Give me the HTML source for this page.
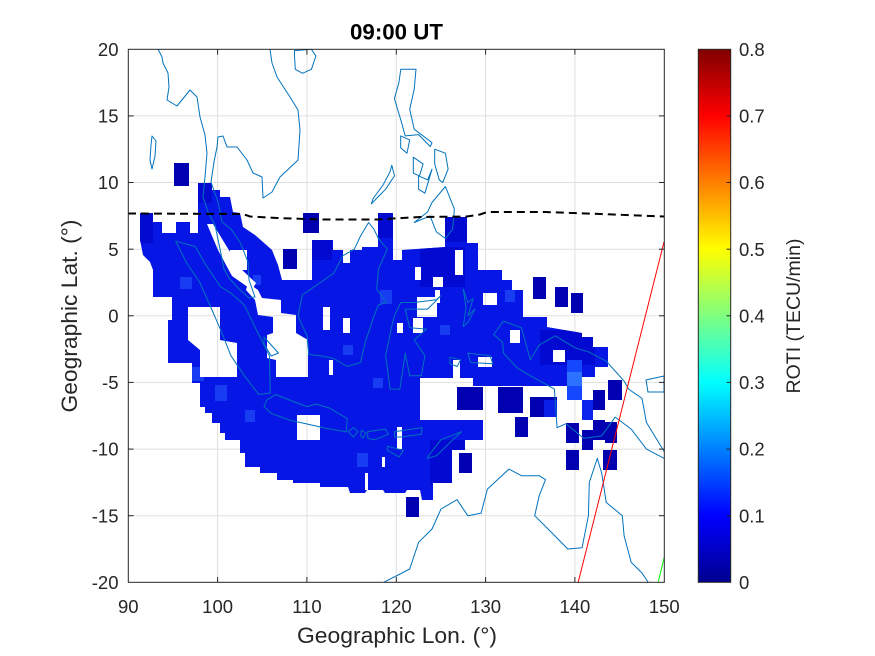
<!DOCTYPE html>
<html>
<head>
<meta charset="utf-8">
<style>
html,body{margin:0;padding:0;background:#fff;}
svg{display:block;}
text{font-family:"Liberation Sans",Arial,sans-serif;fill:#262626;}
</style>
</head>
<body>
<svg width="875" height="656" viewBox="0 0 875 656" xmlns="http://www.w3.org/2000/svg">
<defs>
  <clipPath id="plot"><rect x="128.3" y="49.3" width="536" height="533"/></clipPath>
  <clipPath id="bigclip"><polygon points="140,213 153,213 153,222 198,222 198,183 212,183 212,190 220,190 220,197 230,197 233,212 240,213 243,227 255,235 263,242 272,250 278,265 282,280 312,280 312,240 333,240 333,250 343,250 343,263 350,263 350,250 362,250 362,247 378,247 378,213 393,213 393,260 402,260 402,250 445,247 445,217 467,217 467,243 478,243 478,270 502,270 502,280 512,280 512,290 523,290 523,317 547,317 547,327 582,333 582,337 593,337 593,347 608,347 608,367 595,367 595,377 582,377 582,386 473,386 473,378 420,378 420,420 483,420 483,440 465,440 465,450 452,450 452,483 433,483 433,500 422,500 420,490 407,490 405,493 385,493 383,490 367,490 365,493 350,493 348,487 320,487 320,483 293,483 293,480 277,480 277,473 260,473 260,467 245,467 245,453 240,453 240,440 225,440 225,433 220,433 220,423 212,423 212,413 205,413 205,407 200,407 200,383 192,383 192,363 168,363 168,320 172,320 172,297 153,297 153,270 150,262 143,255 140,240"/></clipPath>
  <linearGradient id="jet" x1="0" y1="1" x2="0" y2="0">
    <stop offset="0" stop-color="#00008f"/>
    <stop offset="0.125" stop-color="#0000ff"/>
    <stop offset="0.375" stop-color="#00ffff"/>
    <stop offset="0.625" stop-color="#ffff00"/>
    <stop offset="0.875" stop-color="#ff0000"/>
    <stop offset="1" stop-color="#800000"/>
  </linearGradient>
  <mask id="holes" maskUnits="userSpaceOnUse" x="0" y="0" width="875" height="656">
    <rect x="0" y="0" width="875" height="656" fill="#fff"/>
    <g fill="#000">
      <rect x="162" y="222" width="14" height="11"/>
      <rect x="190" y="222" width="8" height="11"/>
      <polygon points="207,224 213,224 227,247 240,268 256,283 252,290 232,276 218,250"/>
      <rect x="230" y="250" width="17" height="20"/>
      <polygon points="248,283 258,290 262,298 281,300 281,313 296,315 296,333 308,340 308,377 276,377 276,360 267,358 267,335 273,333 273,317 258,315 255,300 246,290"/>
      <polygon points="188,307 220,307 220,340 237,343 237,377 200,377 200,350 188,340"/>
      <rect x="323" y="307" width="7" height="23"/>
      <rect x="343" y="318" width="7" height="15"/>
      <rect x="417" y="297" width="20" height="20"/>
      <rect x="413" y="318" width="10" height="15"/>
      <rect x="433" y="277" width="10" height="10"/>
      <rect x="415" y="267" width="6" height="13"/>
      <rect x="435" y="290" width="5" height="13"/>
      <rect x="483" y="293" width="14" height="12"/>
      <rect x="478" y="357" width="14" height="10"/>
      <rect x="510" y="330" width="10" height="13"/>
      <rect x="397" y="323" width="6" height="10"/>
      <rect x="455" y="250" width="8" height="25"/>
      <rect x="553" y="350" width="12" height="12"/>
      <rect x="453" y="360" width="7" height="20"/>
      <rect x="297" y="415" width="23" height="25"/>
      <rect x="365" y="473" width="3" height="17"/>
      <rect x="397" y="427" width="5" height="22"/>
      <rect x="382" y="457" width="3" height="10"/>
      <rect x="329" y="360" width="4" height="15"/>
    </g>
  </mask>
</defs>

<rect x="0" y="0" width="875" height="656" fill="#fff"/>

<g stroke="#dfdfdf" stroke-width="1">
  <line x1="217.6" y1="49.3" x2="217.6" y2="582.3"/>
  <line x1="306.9" y1="49.3" x2="306.9" y2="582.3"/>
  <line x1="396.3" y1="49.3" x2="396.3" y2="582.3"/>
  <line x1="485.6" y1="49.3" x2="485.6" y2="582.3"/>
  <line x1="574.9" y1="49.3" x2="574.9" y2="582.3"/>
  <line x1="128.3" y1="115.9" x2="664.3" y2="115.9"/>
  <line x1="128.3" y1="182.5" x2="664.3" y2="182.5"/>
  <line x1="128.3" y1="249.2" x2="664.3" y2="249.2"/>
  <line x1="128.3" y1="315.8" x2="664.3" y2="315.8"/>
  <line x1="128.3" y1="382.4" x2="664.3" y2="382.4"/>
  <line x1="128.3" y1="449.1" x2="664.3" y2="449.1"/>
  <line x1="128.3" y1="515.7" x2="664.3" y2="515.7"/>
</g>

<g clip-path="url(#plot)">
  <g mask="url(#holes)">
    <g clip-path="url(#bigclip)">
      <rect x="128" y="160" width="500" height="360" fill="#0616e4"/>
      <g fill="#0004c4" opacity="0.6">
        <rect x="420" y="247" width="45" height="40"/>
        <rect x="540" y="330" width="55" height="35"/>
        <rect x="140" y="213" width="13" height="30"/>
        <rect x="198" y="183" width="14" height="20"/>
        <rect x="378" y="213" width="15" height="25"/>
        <rect x="445" y="217" width="22" height="25"/>
        <rect x="430" y="440" width="35" height="45"/>
        <rect x="312" y="240" width="20" height="20"/>
      </g>
      <g fill="#2a62ff" opacity="0.5">
        <rect x="180" y="277" width="12" height="12"/>
        <rect x="253" y="275" width="8" height="10"/>
        <rect x="192" y="367" width="12" height="14"/>
        <rect x="215" y="385" width="12" height="16"/>
        <rect x="357" y="453" width="11" height="14"/>
        <rect x="380" y="290" width="12" height="14"/>
        <rect x="245" y="410" width="10" height="12"/>
        <rect x="440" y="325" width="10" height="10"/>
        <rect x="505" y="290" width="10" height="12"/>
        <rect x="343" y="345" width="10" height="10"/>
        <rect x="373" y="378" width="10" height="10"/>
      </g>
    </g>
  </g>

  <g fill="#0000b0">
    <rect x="174" y="163" width="15" height="23"/>
    <rect x="303" y="213" width="16" height="20"/>
    <rect x="283" y="249" width="14" height="20"/>
    <rect x="533" y="277" width="13" height="22"/>
    <rect x="555" y="287" width="13" height="20"/>
    <rect x="571" y="293" width="12" height="20"/>
    <rect x="457" y="387" width="26" height="23"/>
    <rect x="498" y="387" width="25" height="26"/>
    <rect x="530" y="397" width="27" height="20"/>
    <rect x="515" y="417" width="13" height="20"/>
    <rect x="582" y="400" width="11" height="20"/>
    <rect x="593" y="390" width="12" height="20"/>
    <rect x="608" y="380" width="14" height="20"/>
    <rect x="593" y="420" width="12" height="20"/>
    <rect x="582" y="430" width="11" height="20"/>
    <rect x="605" y="422" width="12" height="21"/>
    <rect x="566" y="423" width="13" height="20"/>
    <rect x="566" y="450" width="13" height="20"/>
    <rect x="603" y="450" width="14" height="20"/>
    <rect x="459" y="453" width="13" height="20"/>
    <rect x="406" y="497" width="13" height="20"/>
  </g>
  <rect x="544" y="400" width="13" height="17" fill="#0a20e8"/>
  <rect x="567" y="360" width="15" height="40" fill="#1448ff"/>
  <rect x="567" y="372" width="15" height="14" fill="#2a72ff"/>
  <rect x="582" y="400" width="11" height="20" fill="#0a24ee"/>

  <g fill="none" stroke="#0072bd" stroke-width="1" stroke-linejoin="round">
    <polyline points="158,49 162,57 163,63 168,73 169,87 167,100 177,106 190,90 197,97 200,117 205,135 207,153 205,177 203,197 208,212 215,225 220,249 224,269 229,278 240,290 249,298 255,297 249,280 248,262 240,242 231,229 222,222 218,202 211,182 214,162 217,147 218,137 223,136 227,147 237,147 247,160 253,173 262,177 263,198 272,192 280,177 298,160 300,130 298,110 290,97 277,77 272,63 270,49"/>
    <polygon points="152,136 156,141 155,156 152,169 150,160 151,145"/>
    <polygon points="294.5,50.6 311.4,49.3 315.9,56 311.4,69.3 302.5,73.3 295.3,69.3 294.5,56"/>
    <polygon points="175.6,241.2 195.3,246.5 206,265.2 220.3,286.5 231,293.1 244.4,305.1 256,329.1 269.4,355.8 270.3,393.1 258.7,394.4 244.4,375.7 231,355.8 220.3,329.1 208.7,302.5 199.8,282.5 186.4,262.5"/>
    <polygon points="264,337 278.4,353 271.2,356 264,344"/>
    <polygon points="266.8,399.9 275.7,394.6 289.1,399.9 307,406.6 315.9,404 329.3,408 347.2,418.6 346.3,431.9 324.8,428 307,424 289.1,420 271.2,413.3 264,406.6"/>
    <polygon points="353.4,427.6 357.9,431.7 353.4,437 348.1,431.7"/>
    <polygon points="361.5,430.3 365.9,433 363.2,438.3 360.6,435.7"/>
    <polygon points="367.7,431.7 385.6,429 388.3,434.3 374.9,439.7 367.7,438.3"/>
    <polygon points="394.5,431.7 422.2,427.6 421.3,434.3 400.7,437 394.5,437"/>
    <polygon points="387.4,446.3 403.4,450.3 399,457 387.4,450.3"/>
    <polygon points="427.6,457 441,439.7 461.5,431.7 454.4,438.3 436.5,455.7 427.6,458.3"/>
    <polygon points="368.6,222.5 360.6,235.9 354.3,249.2 342.7,255.8 333.8,273.2 320.4,282.5 307,291.8 302.5,294.5 298,315.8 307,335.8 308.8,354.5 320.4,355.8 333.8,358.5 347.2,366.5 360.6,362.5 365.1,342.5 374,315.8 378.4,305.1 386.5,302.5 376.7,289.1 378.4,269.2 387.3,249.2 378.4,238.5 373.9,229.2"/>
    <polygon points="400.7,302.5 414.2,302.5 436.4,299.8 440.9,295.8 427.6,309.1 405.2,309.1 409.7,327.8 426.7,329.1 414.2,339.8 424.9,355.8 421.3,375.7 409.7,375.7 405.2,353.2 399.9,389.1 390.1,389.1 385.6,355.8 391.7,326.5 394.4,315.8"/>
    <polygon points="400.8,69.3 416,69.3 414.2,89.3 409.7,109.3 414.2,129.2 432,142.6 430.3,146.6 418.6,134.6 405.2,135.9 401.6,122.6 394.4,98.6 398.9,82.6"/>
    <polygon points="434.7,149.2 445.4,153.2 448.1,169.2 442.7,182.5 439.2,179.8 434.7,163.9"/>
    <polygon points="413.3,157.2 423.1,163.9 419.5,175.9 413.3,173.2"/>
    <polygon points="418.6,175.9 427.6,179.8 432,169.2 424.9,193.2 418.6,189.2"/>
    <polygon points="400.7,135.9 409.7,139.9 407,153.2 400.7,147.9"/>
    <polygon points="391.8,165.2 394.5,175.9 385.6,189.2 371.3,203.9 373.1,198.5 382.9,185.2 390,171.9"/>
    <polygon points="414.2,222.5 427.6,211.9 432,202.5 445.4,186.5 454.4,209.2 452.6,229.2 445.4,238.5 436.4,231.9 430.1,215.9"/>
    <polygon points="463.3,289.2 467.8,302.5 473.2,298.5 467.8,315.8 474.9,309.1 467.8,322.5 463.3,326.5 466,307.8"/>
    <polygon points="467.8,353.1 490.1,355.8 492.8,363.8 470.6,362.5"/>
    <polygon points="449.9,357.2 460.6,359.8 457.1,366.5 449.9,363.8"/>
    <polyline points="664.3,451.7 646.4,422.4 642,398.4 628.6,389.1 624.1,381.1 606.2,361.1 588.4,351.8 575,347.8 555.3,335.8 539.2,345.1 530.3,359.8 521.4,327.8 503.5,321.1 493.7,334.5 502.6,342.5 503.5,353.1 516.9,367.7 530.3,375.7 554.4,389.1 557.1,427.7 566,423.7 583.9,438.4 601.7,435.8 615.2,417.1 631.2,429.1 646.4,449.1 664.3,458.4"/>
    <polygon points="646,380 664,376 664,392 648,392"/>
    <polyline points="383.8,582.3 409.7,569 418.6,542.3 432,529 441,509 457,499.7 467.8,515.7 481.1,513.1 487.4,489.1 499,478.4 508.9,469.1 521.4,475.7 539.2,475.7 545.5,479.7 539.2,495.7 534.7,515.7 548.1,529 567.8,549 582.1,547.7 588.4,515.7 589.3,482.4 597.3,458.4 601.7,473.1 606.2,502.4 622.3,515.7 624.1,535.7 631.2,562.4 642,573 648.2,582.3"/>
  </g>

  <polyline fill="none" stroke="#000" stroke-width="2" stroke-dasharray="8,5" points="128,213.5 243,214 250,216.5 277,218 320,219.5 377,219.5 420,217 467,216.5 480,214.5 487,212 545,212 600,214 664,216.5"/>
  <line x1="578" y1="583" x2="664" y2="242" stroke="#ff0000" stroke-width="1"/>
  <line x1="658" y1="583" x2="664.3" y2="557" stroke="#00ee00" stroke-width="1"/>
</g>

<rect x="128.3" y="49.3" width="536" height="533" fill="none" stroke="#262626" stroke-width="1"/>
<g stroke="#262626" stroke-width="1">
  <line x1="217.6" y1="582.3" x2="217.6" y2="577"/><line x1="306.9" y1="582.3" x2="306.9" y2="577"/>
  <line x1="396.3" y1="582.3" x2="396.3" y2="577"/><line x1="485.6" y1="582.3" x2="485.6" y2="577"/>
  <line x1="574.9" y1="582.3" x2="574.9" y2="577"/>
  <line x1="217.6" y1="49.3" x2="217.6" y2="54.6"/><line x1="306.9" y1="49.3" x2="306.9" y2="54.6"/>
  <line x1="396.3" y1="49.3" x2="396.3" y2="54.6"/><line x1="485.6" y1="49.3" x2="485.6" y2="54.6"/>
  <line x1="574.9" y1="49.3" x2="574.9" y2="54.6"/>
  <line x1="128.3" y1="115.9" x2="133.6" y2="115.9"/><line x1="128.3" y1="182.5" x2="133.6" y2="182.5"/>
  <line x1="128.3" y1="249.2" x2="133.6" y2="249.2"/><line x1="128.3" y1="315.8" x2="133.6" y2="315.8"/>
  <line x1="128.3" y1="382.4" x2="133.6" y2="382.4"/><line x1="128.3" y1="449.1" x2="133.6" y2="449.1"/>
  <line x1="128.3" y1="515.7" x2="133.6" y2="515.7"/>
  <line x1="664.3" y1="115.9" x2="659" y2="115.9"/><line x1="664.3" y1="182.5" x2="659" y2="182.5"/>
  <line x1="664.3" y1="249.2" x2="659" y2="249.2"/><line x1="664.3" y1="315.8" x2="659" y2="315.8"/>
  <line x1="664.3" y1="382.4" x2="659" y2="382.4"/><line x1="664.3" y1="449.1" x2="659" y2="449.1"/>
  <line x1="664.3" y1="515.7" x2="659" y2="515.7"/>
</g>

<rect x="698.3" y="49.3" width="32.4" height="533" fill="url(#jet)" stroke="#262626" stroke-width="1"/>
<g stroke="#262626" stroke-width="1">
  <line x1="730.7" y1="115.9" x2="726.5" y2="115.9"/><line x1="730.7" y1="182.5" x2="726.5" y2="182.5"/>
  <line x1="730.7" y1="249.2" x2="726.5" y2="249.2"/><line x1="730.7" y1="315.8" x2="726.5" y2="315.8"/>
  <line x1="730.7" y1="382.4" x2="726.5" y2="382.4"/><line x1="730.7" y1="449.1" x2="726.5" y2="449.1"/>
  <line x1="730.7" y1="515.7" x2="726.5" y2="515.7"/>
</g>

<g font-size="18.5" text-anchor="middle">
  <text x="128.3" y="613">90</text>
  <text x="217.6" y="613">100</text>
  <text x="306.9" y="613">110</text>
  <text x="396.3" y="613">120</text>
  <text x="485.6" y="613">130</text>
  <text x="574.9" y="613">140</text>
  <text x="664.3" y="613">150</text>
</g>
<g font-size="18.5" text-anchor="end">
  <text x="118.5" y="55.9">20</text>
  <text x="118.5" y="122.5">15</text>
  <text x="118.5" y="189.1">10</text>
  <text x="118.5" y="255.8">5</text>
  <text x="118.5" y="322.4">0</text>
  <text x="118.5" y="389">-5</text>
  <text x="118.5" y="455.7">-10</text>
  <text x="118.5" y="522.3">-15</text>
  <text x="118.5" y="588.9">-20</text>
</g>
<g font-size="18.5" text-anchor="start">
  <text x="739" y="55.9">0.8</text>
  <text x="739" y="122.5">0.7</text>
  <text x="739" y="189.1">0.6</text>
  <text x="739" y="255.8">0.5</text>
  <text x="739" y="322.4">0.4</text>
  <text x="739" y="389">0.3</text>
  <text x="739" y="455.7">0.2</text>
  <text x="739" y="522.3">0.1</text>
  <text x="739" y="588.9">0</text>
</g>

<text x="396.5" y="39.3" font-size="22.3" font-weight="bold" text-anchor="middle" style="fill:#000">09:00 UT</text>
<text x="397" y="643" font-size="22" text-anchor="middle" textLength="200" lengthAdjust="spacingAndGlyphs">Geographic Lon. (°)</text>
<text transform="translate(77,316) rotate(-90)" font-size="22" text-anchor="middle" textLength="193" lengthAdjust="spacingAndGlyphs">Geographic Lat. (°)</text>
<text transform="translate(800,316) rotate(-90)" font-size="19.5" text-anchor="middle">ROTI (TECU/min)</text>
</svg>
</body>
</html>
